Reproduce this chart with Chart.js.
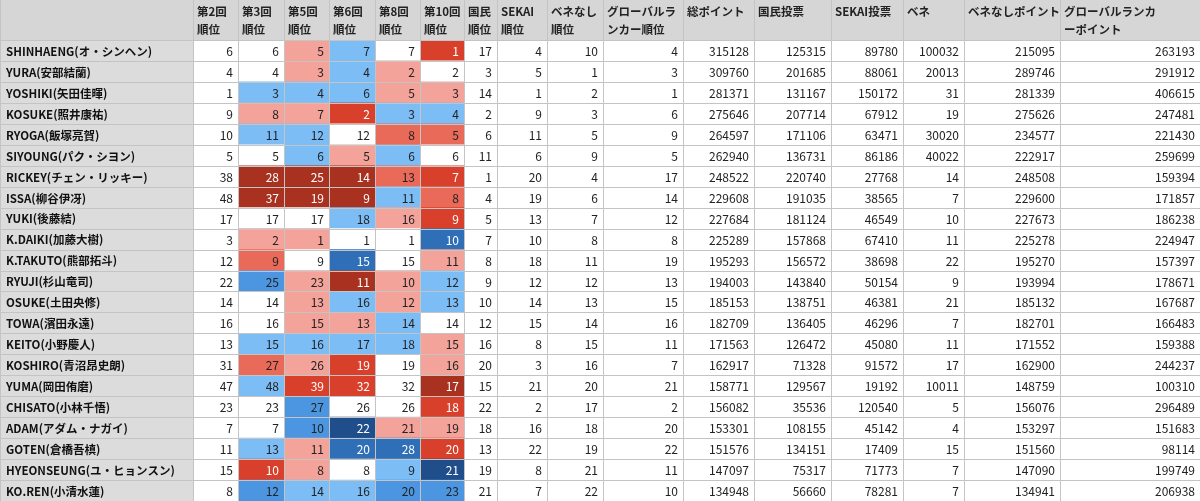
<!DOCTYPE html>
<html>
<head>
<meta charset="utf-8">
<script src="https://cdn.jsdelivr.net/npm/chart.js@4"></script>
<style>
html,body{margin:0;padding:0;background:#fff;}
#wrap{width:1200px;height:501px;}
</style>
</head>
<body>
<div id="wrap"><canvas id="c1"></canvas></div>
<script>
// =========================
// DATA
// =========================
const headers = [
    "", "第2回|順位", "第3回|順位", "第5回|順位", "第6回|順位", "第8回|順位", "第10回|順位",
    "国民|順位", "SEKAI|順位", "ベネなし|順位", "グローバルラ|ンカー順位", "総ポイント", "国民投票",
    "SEKAI投票", "ベネ", "ベネなしポイント", "グローバルランカ|ーポイント"
];

const names = [
    "SHINHAENG(オ・シンヘン)", "YURA(安部結蘭)", "YOSHIKI(矢田佳暉)", "KOSUKE(照井康祐)",
    "RYOGA(飯塚亮賀)", "SIYOUNG(パク・シヨン)", "RICKEY(チェン・リッキー)", "ISSA(柳谷伊冴)",
    "YUKI(後藤結)", "K.DAIKI(加藤大樹)", "K.TAKUTO(熊部拓斗)", "RYUJI(杉山竜司)",
    "OSUKE(土田央修)", "TOWA(濱田永遠)", "KEITO(小野慶人)", "KOSHIRO(青沼昂史朗)",
    "YUMA(岡田侑磨)", "CHISATO(小林千悟)", "ADAM(アダム・ナガイ)", "GOTEN(倉橋吾槙)",
    "HYEONSEUNG(ユ・ヒョンスン)", "KO.REN(小清水蓮)"
];

const rows = [
    [6,6,5,7,7,1,17,4,10,4,315128,125315,89780,100032,215095,263193],
    [4,4,3,4,2,2,3,5,1,3,309760,201685,88061,20013,289746,291912],
    [1,3,4,6,5,3,14,1,2,1,281371,131167,150172,31,281339,406615],
    [9,8,7,2,3,4,2,9,3,6,275646,207714,67912,19,275626,247481],
    [10,11,12,12,8,5,6,11,5,9,264597,171106,63471,30020,234577,221430],
    [5,5,6,5,6,6,11,6,9,5,262940,136731,86186,40022,222917,259699],
    [38,28,25,14,13,7,1,20,4,17,248522,220740,27768,14,248508,159394],
    [48,37,19,9,11,8,4,19,6,14,229608,191035,38565,7,229600,171857],
    [17,17,17,18,16,9,5,13,7,12,227684,181124,46549,10,227673,186238],
    [3,2,1,1,1,10,7,10,8,8,225289,157868,67410,11,225278,224947],
    [12,9,9,15,15,11,8,18,11,19,195293,156572,38698,22,195270,157397],
    [22,25,23,11,10,12,9,12,12,13,194003,143840,50154,9,193994,178671],
    [14,14,13,16,12,13,10,14,13,15,185153,138751,46381,21,185132,167687],
    [16,16,15,13,14,14,12,15,14,16,182709,136405,46296,7,182701,166483],
    [13,15,16,17,18,15,16,8,15,11,171563,126472,45080,11,171552,159388],
    [31,27,26,19,19,16,20,3,16,7,162917,71328,91572,17,162900,244237],
    [47,48,39,32,32,17,15,21,20,21,158771,129567,19192,10011,148759,100310],
    [23,23,27,26,26,18,22,2,17,2,156082,35536,120540,5,156076,296489],
    [7,7,10,22,21,19,18,16,18,20,153301,108155,45142,4,153297,151683],
    [11,13,11,20,28,20,13,22,19,22,151576,134151,17409,15,151560,98114],
    [15,10,8,8,9,21,19,8,21,11,147097,75317,71773,7,147090,199749],
    [8,12,14,16,20,23,21,7,22,10,134948,56660,78281,7,134941,206938]
];

// colour level of the six round columns: + = up (red), - = down (blue)
const levels = [
    [0,0,1,-1,0,3],
    [0,0,1,-1,1,0],
    [0,-1,-1,-1,1,1],
    [0,1,1,3,-1,-1],
    [0,-1,-1,0,2,2],
    [0,0,-1,1,-1,0],
    [0,4,4,4,2,3],
    [0,4,4,4,-1,2],
    [0,0,0,-1,1,3],
    [0,1,1,0,0,-3],
    [0,2,0,-3,0,1],
    [0,-2,1,4,1,-1],
    [0,0,1,-1,1,-1],
    [0,0,1,1,-1,0],
    [0,-1,-1,-1,-1,1],
    [0,2,1,3,0,1],
    [0,-1,3,3,0,4],
    [0,0,-2,0,0,3],
    [0,0,-2,-4,1,1],
    [0,-1,1,-3,-3,3],
    [0,3,1,0,-1,-4],
    [0,-2,-1,-1,-2,-2]
];

// =========================
// LAYOUT
// =========================
const colEdges = [0,193,238,284,329,375,420,464,497,547,603,683,754,831,903,964,1060,1200];
const HEADER_H = 40;

const COLORS = {
    "-4": "#1f4e8a", "-3": "#2f6fb8", "-2": "#4c95e0", "-1": "#7dbdf5",
    "0": "#ffffff",
    "1": "#f4a39a", "2": "#ea6a5a", "3": "#d9402b", "4": "#a8321f"
};

function cellColor(col, r){
    if(col === 0) return "#dcdcdc";
    if(col <= 6) return COLORS[levels[r][col - 1]];
    return "#ffffff";
}

// =========================
// DATASETS (one per column)
// =========================
const datasets = colEdges.slice(0, -1).map((x0, c) => ({
    label: headers[c],
    data: names.map(() => [x0, colEdges[c + 1]]),
    backgroundColor: names.map((_, r) => cellColor(c, r)),
    borderWidth: 0,
    grouped: false,
    categoryPercentage: 1,
    barPercentage: 1
}));

const FONT = '"Noto Sans CJK JP", "Noto Sans", sans-serif';

const tablePlugin = {
    id: "tableText",
    afterDatasetsDraw(chart){
        const ctx = chart.ctx;
        const xs = chart.scales.x;
        const area = chart.chartArea;
        ctx.save();

        // header background
        ctx.fillStyle = "#d6d6d6";
        ctx.fillRect(xs.getPixelForValue(0), 0, xs.getPixelForValue(1200), HEADER_H);

        // grid lines
        ctx.strokeStyle = "#c4c4c4";
        ctx.lineWidth = 1;
        colEdges.forEach(e => {
            let px = Math.round(xs.getPixelForValue(e)) + 0.5;
            ctx.beginPath();
            ctx.moveTo(px, 0);
            ctx.lineTo(px, area.bottom);
            ctx.stroke();
        });
        const meta0 = chart.getDatasetMeta(0);
        meta0.data.forEach(bar => {
            let py = Math.round(bar.y - bar.height / 2) + 0.5;
            ctx.beginPath();
            ctx.moveTo(area.left, py);
            ctx.lineTo(area.right, py);
            ctx.stroke();
        });

        // header text
        ctx.fillStyle = "#222";
        ctx.font = "bold 11.5px " + FONT;
        ctx.textAlign = "left";
        ctx.textBaseline = "middle";
        headers.forEach((h, c) => {
            let lines = h.split("|");
            let x = xs.getPixelForValue(colEdges[c]) + 4;
            lines.forEach((ln, i) => ctx.fillText(ln, x, 12 + i * 18));
        });

        // cells
        chart.data.datasets.forEach((ds, c) => {
            chart.getDatasetMeta(c).data.forEach((bar, r) => {
                if(c === 0){
                    ctx.font = "bold 11.5px " + FONT;
                    ctx.textAlign = "left";
                    ctx.fillStyle = "#111";
                    ctx.fillText(names[r], xs.getPixelForValue(colEdges[0]) + 6, bar.y + 1);
                } else {
                    let lv = c <= 6 ? levels[r][c - 1] : 0;
                    ctx.font = "12px " + FONT;
                    ctx.textAlign = "right";
                    ctx.fillStyle = Math.abs(lv) >= 3 ? "#ffffff" : "#222";
                    ctx.fillText(String(rows[r][c - 1]), xs.getPixelForValue(colEdges[c + 1]) - 5, bar.y + 1);
                }
            });
        });
        ctx.restore();
    }
};

new Chart(document.getElementById("c1"), {
    type: "bar",
    data: { labels: names, datasets: datasets },
    options: {
        indexAxis: "y",
        responsive: true,
        maintainAspectRatio: false,
        animation: false,
        layout: { padding: { top: HEADER_H, left: 0, right: 0, bottom: 0 } },
        plugins: { legend: { display: false }, tooltip: { enabled: false } },
        scales: {
            x: { type: "linear", min: 0, max: 1200, display: false },
            y: { display: false, offset: true }
        }
    },
    plugins: [tablePlugin]
});
</script>
</body>
</html>
